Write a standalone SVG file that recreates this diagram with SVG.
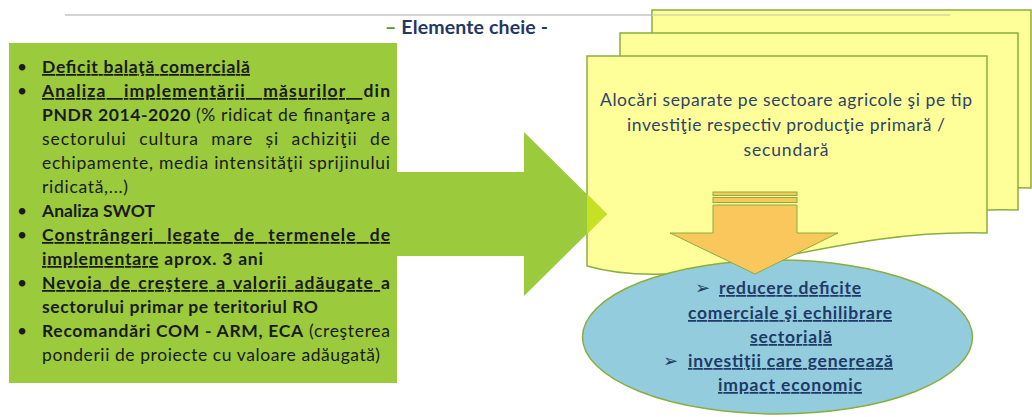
<svg xmlns="http://www.w3.org/2000/svg" width="1032" height="417" viewBox="0 0 1032 417">
<style>
.t{font-family:Lato,"Liberation Sans",sans-serif;font-size:17.5px;fill:#1a1a1a}
.b{font-weight:bold}
.u{text-decoration:underline}
.doc{fill:#FFFF99;stroke:#8AAE3E;stroke-width:1.5}
.yt{font-family:Lato,"Liberation Sans",sans-serif;font-size:17.5px;fill:#2E4466;text-anchor:middle}
.et{font-family:Lato,"Liberation Sans",sans-serif;font-size:17.5px;font-weight:bold;fill:#1F3A68}
.bul{font-family:"DejaVu Sans",sans-serif;font-size:18px;font-weight:normal;text-decoration:none}
.or{fill:#F9C75C;stroke:#86AE3A;stroke-width:1}
</style>
<rect width="1032" height="417" fill="#ffffff"/>
<line x1="65" y1="15" x2="950" y2="15" stroke="#C4C4C4" stroke-width="1.5"/>
<g id="title">
<text x="385" y="34" textLength="163" lengthAdjust="spacing" style="font-family:Lato,'Liberation Sans',sans-serif;font-size:19.5px;font-weight:bold;fill:#1F3864"><tspan fill="#4E9A2E">–</tspan> Elemente cheie -</text>
</g>
<g id="documents">
<path class="doc" d="M652,10 H1031 V188 C884,183 764,253 652,221 Z"/>
<line x1="652" y1="15" x2="950" y2="15" stroke="#D6D6A4" stroke-width="1.5"/>
<path class="doc" d="M620,33 H1018 V210 C852,205 732,275 620,243 Z"/>
<path class="doc" d="M587,56 H987 V233 C820,228 700,298 587,266 Z"/>
<text class="yt" x="786" y="106" textLength="372" lengthAdjust="spacing">Alocări separate pe sectoare agricole şi pe tip</text>
<text class="yt" x="786" y="131" textLength="318" lengthAdjust="spacing">investiţie respectiv producţie primară /</text>
<text class="yt" x="786" y="156" textLength="85" lengthAdjust="spacing">secundară</text>
</g>
<g id="left-panel">
<path d="M9,43 H397 V172 H524 V132 L607,214 L524,296 V256 H397 V383 H9 Z" fill="#9BCB3C"/>
<path d="M587,194 L607,214 L587,234 Z" fill="#C6E026"/>
<g class="t">
<text x="17" y="73">•</text>
<text x="17" y="97">•</text>
<text x="17" y="217">•</text>
<text x="17" y="241">•</text>
<text x="17" y="289">•</text>
<text x="17" y="337">•</text>
</g>
<text class="t" x="42" y="73" textLength="208" lengthAdjust="spacing"><tspan class="b u">Deficit balaţă comercială</tspan></text>
<text class="t" x="42" y="97" textLength="348" lengthAdjust="spacing" word-spacing="12"><tspan class="b u">Analiza implementării măsurilor </tspan><tspan class="b">din</tspan></text>
<text class="t" x="42" y="121" textLength="348" lengthAdjust="spacing"><tspan class="b">PNDR 2014-2020</tspan> (% ridicat de finanţare a</text>
<text class="t" x="42" y="145" textLength="348" lengthAdjust="spacing" word-spacing="7">sectorului cultura mare și achiziţii de</text>
<text class="t" x="42" y="169" textLength="348" lengthAdjust="spacing">echipamente, media intensităţii sprijinului</text>
<text class="t" x="42" y="193" textLength="86" lengthAdjust="spacing">ridicată,...)</text>
<text class="t b" x="42" y="217" textLength="113" lengthAdjust="spacing">Analiza SWOT</text>
<text class="t" x="42" y="241" textLength="348" lengthAdjust="spacing" word-spacing="8"><tspan class="b u">Constrângeri legate de termenele de</tspan></text>
<text class="t" x="42" y="265" textLength="221" lengthAdjust="spacing"><tspan class="b u">implementare</tspan><tspan class="b"> aprox. 3 ani</tspan></text>
<text class="t" x="42" y="289" textLength="348" lengthAdjust="spacing" word-spacing="2"><tspan class="b u">Nevoia de creştere a valorii adăugate </tspan><tspan class="b">a</tspan></text>
<text class="t b" x="42" y="313" textLength="276" lengthAdjust="spacing">sectorului primar pe teritoriul RO</text>
<text class="t" x="42" y="337" textLength="348" lengthAdjust="spacing"><tspan class="b">Recomandări COM - ARM, ECA</tspan> (creşterea</text>
<text class="t" x="42" y="361" textLength="338" lengthAdjust="spacing">ponderii de proiecte cu valoare adăugată)</text>
</g>
<g id="outcome">
<ellipse cx="777.5" cy="337" rx="195" ry="77" fill="#93CDDD" stroke="#8AAE3E" stroke-width="1.5"/>
<text class="et" x="695" y="294"><tspan class="bul">➢</tspan></text>
<text class="et u" x="719" y="294" textLength="142" lengthAdjust="spacing">reducere deficite</text>
<text class="et u" x="688" y="319" textLength="204" lengthAdjust="spacing">comerciale şi echilibrare</text>
<text class="et u" x="750" y="343" textLength="82" lengthAdjust="spacing">sectorială</text>
<text class="et" x="663" y="367"><tspan class="bul">➢</tspan></text>
<text class="et u" x="688" y="367" textLength="205" lengthAdjust="spacing"> investiţii care generează</text>
<text class="et u" x="718" y="391" textLength="144" lengthAdjust="spacing">impact economic</text>
</g>
<g id="connectors">
<rect class="or" x="713" y="192" width="84" height="3.5"/>
<rect class="or" x="713" y="197.5" width="84" height="5"/>
<path class="or" d="M713,205 H797 V233 H838 L755,274 L670,233 H713 Z"/>
</g>
</svg>
